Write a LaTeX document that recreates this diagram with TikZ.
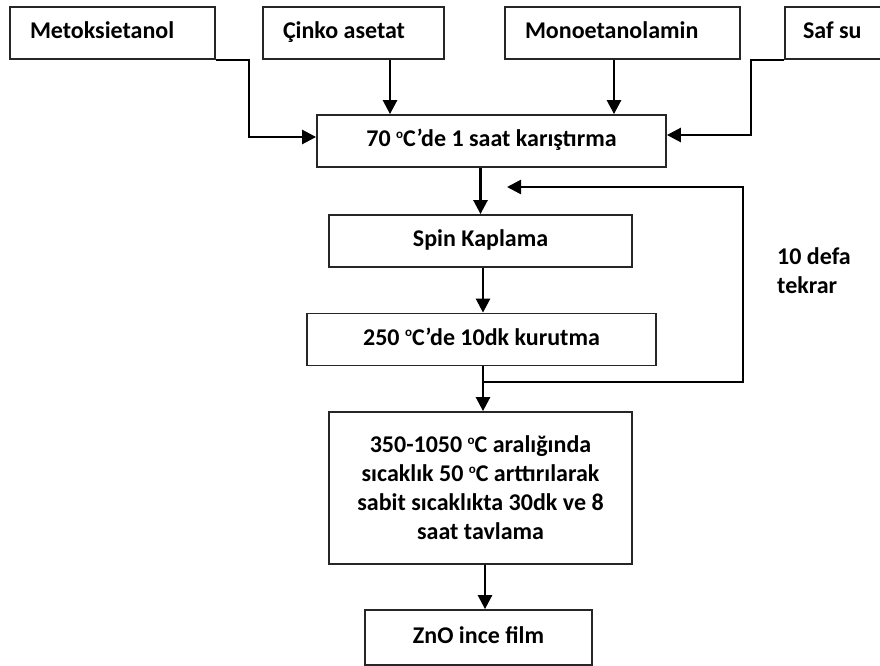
\documentclass[tikz,border=0pt]{standalone}
\usepackage{fontspec}
\setmainfont{Carlito}
\usepackage{tikz}
\usetikzlibrary{arrows.meta, positioning, calc}

\newcommand{\degc}{\raisebox{8.5pt}{\fontsize{13}{13}\selectfont o}C}

\begin{document}
\begin{tikzpicture}[
  x=1pt, y=-1pt,
  font=\fontsize{24}{29}\selectfont\bfseries,
  srcbox/.style={draw=black!85, line width=1.8pt, minimum height=52pt, inner xsep=20pt, inner ysep=2pt, text height=16pt, text depth=5pt, align=flush left},
  stepbox/.style={draw=black!85, line width=1.8pt, minimum height=52pt, inner sep=2pt, align=center},
  arr/.style={draw=black, line width=2.6pt, -{Triangle[width=14pt,length=14pt]}}
]
  \useasboundingbox (0,0) rectangle (880,666);

  % raw materials
  \node[srcbox, text width=165pt] (metok) at (112.5, 33) {Metoksietanol};
  \node[srcbox, text width=141pt] (cinko) at (353.5, 33) {Çinko asetat};
  \node[srcbox, text width=195pt] (mono) at (622.5, 33) {Monoetanolamin};
  \node[srcbox, text width=79pt, inner xsep=18pt] (safsu) at (842.5, 33) {Saf su};

  % process steps
  \node[stepbox, minimum width=349pt, text height=16pt, text depth=5pt] (mix) at (491.5, 141) {70 \degc’de 1 saat karıştırma};
  \node[stepbox, minimum width=303pt, text height=16pt, text depth=5pt] (spin) at (480.5, 241) {Spin Kaplama};
  \node[stepbox, minimum width=349pt, text height=16pt, text depth=5pt] (dry) at (481.5, 339.5) {250 \degc’de 10dk kurutma};
  \node[stepbox, minimum width=303pt, minimum height=152pt] (anneal) at (480.5, 488) {350-1050 \degc{} aralığında\\ sıcaklık 50 \degc{} arttırılarak\\ sabit sıcaklıkta 30dk ve 8\\ saat tavlama};
  \node[stepbox, minimum width=227pt, minimum height=55pt, text height=16pt, text depth=5pt] (zno) at (478.5, 637.5) {ZnO ince film};

  \node[anchor=west, align=flush left, inner sep=3pt] (repeat) at (774, 271) {10 defa\\ tekrar};

  % connectors
  \draw[arr] (metok.south east) -- ++(33,0) |- ([yshift=4pt]mix.west);
  \draw[arr] (cinko.south -| 390,0) -- (mix.north -| 390,0);
  \draw[arr] (mono.south -| 614,0) -- (mix.north -| 614,0);
  \draw[arr] (safsu.south west) -- ++(-33,0) |- ([yshift=6pt]mix.east);

  \draw[arr] (mix.south -| spin.north) -- (spin.north);
  \draw[arr] (spin.south -| 483,0) -- (dry.north -| 483,0);
  \draw[arr] (dry.south -| 483,0) -- (anneal.north -| 483,0);
  \draw[arr] (anneal.south -| 485,0) -- (zno.north -| 485,0);

  % repeat loop
  \coordinate (split) at (483, 382);
  \coordinate (corner) at (743, 187);
  \coordinate (back) at (507, 187);
  \draw[arr] (split) -| (corner) -- (back);
\end{tikzpicture}
\end{document}
